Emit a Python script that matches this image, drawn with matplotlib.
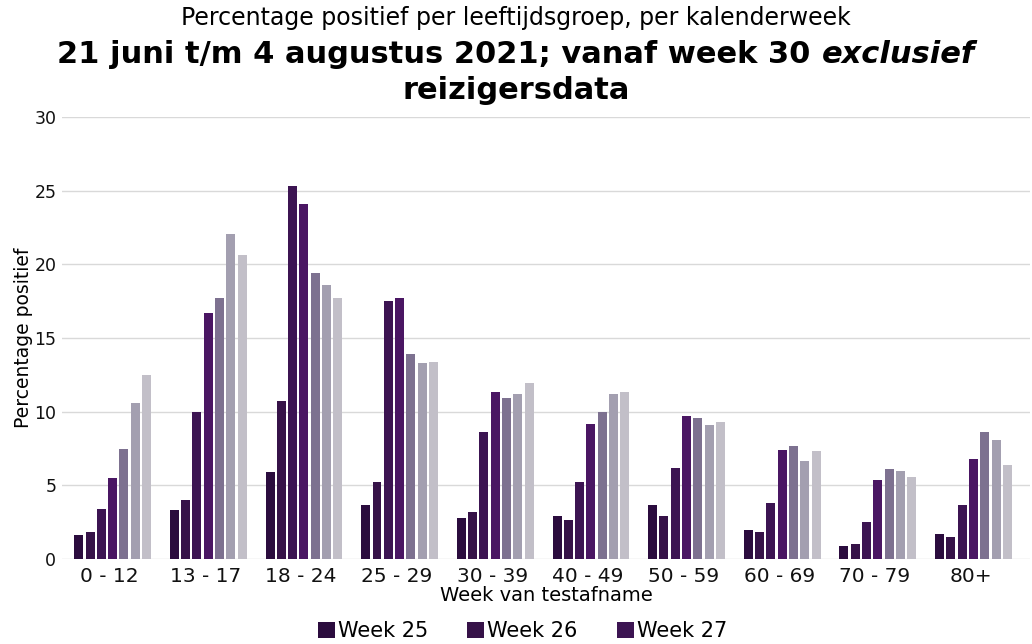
import numpy as np
import matplotlib.pyplot as plt

groups = ["0 - 12", "13 - 17", "18 - 24", "25 - 29", "30 - 39",
          "40 - 49", "50 - 59", "60 - 69", "70 - 79", "80+"]
weeks = ["Week 25", "Week 26", "Week 27", "Week 28", "Week 29", "Week 30", "Week 31"]

wk25 = [1.6, 3.35, 5.9, 3.7, 2.8, 2.9, 3.7, 2.0, 0.9, 1.7]
wk26 = [1.8, 4.0, 10.7, 5.2, 3.2, 2.65, 2.95, 1.8, 1.05, 1.5]
wk27 = [3.4, 10.0, 25.3, 17.55, 8.6, 5.25, 6.2, 3.8, 2.5, 3.7]
wk28 = [5.5, 16.7, 24.1, 17.7, 11.35, 9.2, 9.7, 7.4, 5.35, 6.8]
wk29 = [7.45, 17.7, 19.45, 13.9, 10.95, 10.0, 9.6, 7.65, 6.1, 8.65]
wk30 = [10.6, 22.1, 18.6, 13.3, 11.2, 11.2, 9.1, 6.65, 5.95, 8.05]
wk31 = [12.5, 20.65, 17.7, 13.4, 11.95, 11.35, 9.3, 7.35, 5.55, 6.4]

series = [wk25, wk26, wk27, wk28, wk29, wk30, wk31]
colors = ["#2b0c3e", "#361248", "#3c1452", "#4a1663", "#7d7190", "#a39fb0", "#c2bfc8"]

fig = plt.figure(figsize=(10.32, 6.44), dpi=100)
ax = fig.add_axes([0.060, 0.132, 0.938, 0.686])

x = np.arange(len(groups))
pitch = 0.118
width = 0.094
bars = []
for i, (vals, col) in enumerate(zip(series, colors)):
    b = ax.bar(x + (i - 3) * pitch + 0.03, vals, width=width, color=col, label=weeks[i], zorder=3)
    bars.append(b)

ax.set_xlim(-0.5, 9.62)
ax.set_ylim(0, 30)
ax.set_yticks(range(0, 31, 5))
ax.set_xticks(x)
ax.set_xticklabels(groups)
ax.grid(axis="y", color="#d9d9d9", linewidth=1.0, zorder=0)
for s in ax.spines.values():
    s.set_visible(False)
ax.tick_params(length=0, labelsize=12.5, colors="#111111", pad=4)
ax.tick_params(axis="x", labelsize=14.5, pad=6)
ax.set_ylabel("Percentage positief", fontsize=13.5, labelpad=1)
ax.set_xlabel("Week van testafname", fontsize=14, labelpad=0)

# only the first legend row fits on the original image
fig.legend(bars[:3], weeks[:3],
           ncol=3, loc="upper left", bbox_to_anchor=(0.308, 0.036),
           frameon=False, fontsize=15, handlelength=0.8, handleheight=0.8,
           handletextpad=0.15, columnspacing=1.9,
           borderaxespad=0, borderpad=0)

# titles
fig.text(0.5, 0.972, "Percentage positief per leeftijdsgroep, per kalenderweek",
         ha="center", va="center", fontsize=17)

fig.canvas.draw()
r = fig.canvas.get_renderer()
ta = fig.text(0, 0.915, "21 juni t/m 4 augustus 2021; vanaf week 30 ",
              fontsize=22, fontweight="bold", va="center")
tb = fig.text(0, 0.915, "exclusief", fontsize=22, fontweight="bold",
              style="italic", va="center")
wa = ta.get_window_extent(r).width / fig.bbox.width
wb = tb.get_window_extent(r).width / fig.bbox.width
x0 = 0.5 - (wa + wb) / 2
ta.set_x(x0)
tb.set_x(x0 + wa)
fig.text(0.5, 0.860, "reizigersdata", ha="center", va="center",
         fontsize=22, fontweight="bold")

fig.savefig("out.png", dpi=100)
